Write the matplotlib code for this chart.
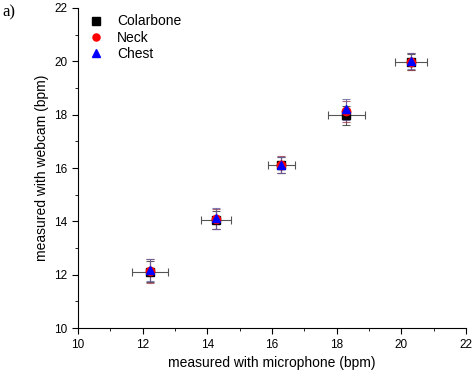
import matplotlib
matplotlib.use("Agg")
import matplotlib.pyplot as plt
from matplotlib.ticker import MultipleLocator

plt.rcParams['font.family'] = ['Liberation Sans', 'DejaVu Sans']

# microphone reference (x) with its error
mic = [12.23, 14.27, 16.28, 18.30, 20.30]
mic_err = [0.55, 0.47, 0.42, 0.57, 0.50]

# webcam estimates per body location
colarbone = [12.12, 14.05, 16.10, 17.98, 19.97]
colarbone_err = [0.40, 0.35, 0.30, 0.35, 0.30]
neck = [12.15, 14.08, 16.12, 18.12, 19.99]
neck_err = [0.45, 0.38, 0.32, 0.38, 0.32]
chest = [12.18, 14.12, 16.13, 18.20, 20.02]
chest_err = [0.42, 0.40, 0.30, 0.40, 0.30]

fig = plt.figure(figsize=(4.76, 3.78), dpi=100)
ax = fig.add_axes([0.164, 0.132, 0.815, 0.847])

series = [
    ("Colarbone", colarbone, colarbone_err, 's', 'black', '#333333'),
    ("Neck", neck, neck_err, 'o', 'red', '#a04050'),
    ("Chest", chest, chest_err, '^', 'blue', '#6060a0'),
]
for name, y, yerr, m, c, ec in series:
    ax.errorbar(mic, y, yerr=yerr, fmt='none', ecolor=ec, elinewidth=0.8,
                capsize=3, capthick=0.8, alpha=0.8)
# the microphone error is the same for all locations, one bar is visible
ax.errorbar(mic, colarbone, xerr=mic_err, fmt='none', ecolor='#555555',
            elinewidth=0.8, capsize=3, capthick=0.8)
for name, y, yerr, m, c, ec in series:
    ax.plot(mic, y, m, color=c, markersize=6, linestyle='none', label=name)

ax.set_xlim(10, 22)
ax.set_ylim(10, 22)
ax.xaxis.set_major_locator(MultipleLocator(2))
ax.yaxis.set_major_locator(MultipleLocator(2))
ax.xaxis.set_minor_locator(MultipleLocator(1))
ax.yaxis.set_minor_locator(MultipleLocator(1))
ax.spines['top'].set_visible(False)
ax.spines['right'].set_visible(False)
ax.tick_params(which='major', direction='out', length=4, labelsize=8.5)
ax.tick_params(which='minor', direction='out', length=2.5)

ax.set_xlabel("measured with microphone (bpm)", fontsize=10)
ax.set_ylabel("measured with webcam (bpm)", fontsize=10)

ax.legend(loc='upper left', bbox_to_anchor=(0.0, 1.01), frameon=False,
          fontsize=10, handlelength=1.2, handletextpad=0.9, labelspacing=0.15,
          borderaxespad=0.3, markerscale=0.85)

fig.text(0.006, 0.967, "a)", fontsize=12, family='Liberation Serif', va='center')

fig.savefig("out.png", dpi=100)
